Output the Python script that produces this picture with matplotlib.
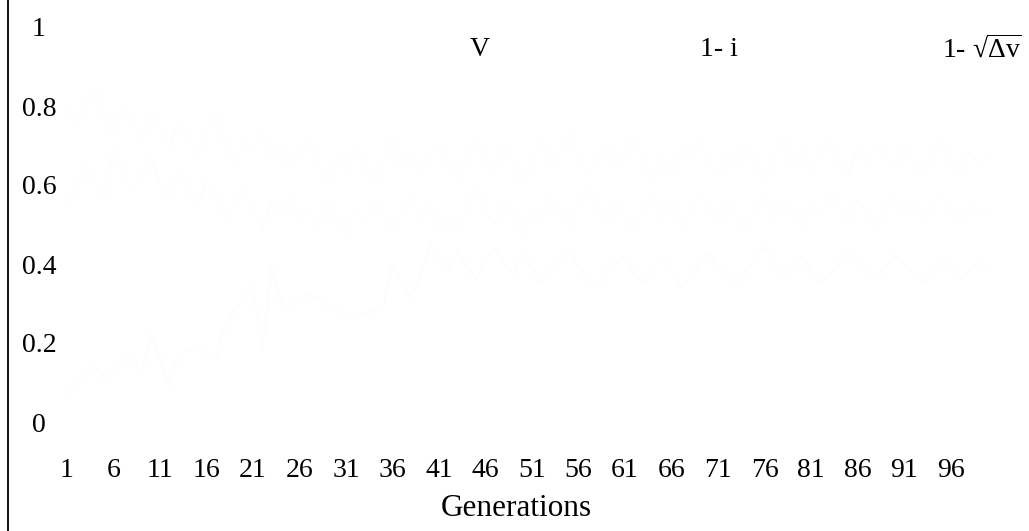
import matplotlib
matplotlib.use("Agg")
import matplotlib.pyplot as plt
import matplotlib.transforms as mtransforms

plt.rcParams['font.family'] = ['Liberation Serif', 'DejaVu Serif']
plt.rcParams['mathtext.fontset'] = 'custom'
plt.rcParams['mathtext.rm'] = 'Liberation Serif'
plt.rcParams['mathtext.it'] = 'Liberation Serif'

generations = list(range(1, 101))
xtick_labels = list(range(1, 97, 5))
ytick_values = [0, 0.2, 0.4, 0.6, 0.8, 1]
ytick_labels = ["0", "0.2", "0.4", "0.6", "0.8", "1"]
series_names = ["V", "1- i", r"1- √$\overline{\Delta\mathrm{v}}$"]

series_low = [
    0.08, 0.11, 0.13, 0.15, 0.12, 0.14, 0.16, 0.18, 0.13, 0.23,
    0.17, 0.10, 0.18, 0.19, 0.20, 0.18, 0.17, 0.25, 0.29, 0.32,
    0.35, 0.19, 0.40, 0.31, 0.30, 0.32, 0.33, 0.32, 0.30, 0.29,
    0.27, 0.28, 0.28, 0.29, 0.30, 0.41, 0.36, 0.32, 0.38, 0.46,
    0.42, 0.39, 0.44, 0.40, 0.37, 0.42, 0.45, 0.41, 0.38, 0.43,
    0.40, 0.36, 0.39, 0.42, 0.44, 0.40, 0.37, 0.35, 0.39, 0.41,
    0.43, 0.38, 0.36, 0.40, 0.42, 0.39, 0.35, 0.37, 0.41, 0.44,
    0.40, 0.38, 0.36, 0.39, 0.42, 0.45, 0.41, 0.38, 0.40, 0.43,
    0.39, 0.36, 0.38, 0.41, 0.44, 0.42, 0.39, 0.37, 0.40, 0.43,
    0.41, 0.38, 0.36, 0.39, 0.42, 0.40, 0.37, 0.39, 0.41, 0.40,
]
series_mid = [
    0.55, 0.60, 0.66, 0.62, 0.58, 0.70, 0.64, 0.59, 0.63, 0.68,
    0.61, 0.57, 0.65, 0.60, 0.55, 0.62, 0.58, 0.52, 0.56, 0.60,
    0.54, 0.49, 0.57, 0.53, 0.58, 0.51, 0.55, 0.50, 0.56, 0.52,
    0.48, 0.55, 0.51, 0.57, 0.53, 0.49, 0.54, 0.58, 0.52, 0.56,
    0.50, 0.53, 0.49, 0.55, 0.60, 0.54, 0.51, 0.57, 0.53, 0.48,
    0.55, 0.52, 0.58, 0.54, 0.50, 0.56, 0.60, 0.55, 0.51, 0.57,
    0.53, 0.49, 0.55, 0.58, 0.52, 0.56, 0.50, 0.54, 0.59, 0.55,
    0.51, 0.56, 0.53, 0.49, 0.55, 0.58, 0.52, 0.57, 0.54, 0.50,
    0.56, 0.53, 0.59, 0.55, 0.51, 0.57, 0.54, 0.50, 0.55, 0.58,
    0.53, 0.57, 0.52, 0.55, 0.59, 0.54, 0.51, 0.56, 0.53, 0.55,
]
series_top = [
    0.80, 0.76, 0.82, 0.85, 0.78, 0.74, 0.81, 0.77, 0.72, 0.79,
    0.75, 0.70, 0.77, 0.73, 0.68, 0.74, 0.79, 0.71, 0.66, 0.72,
    0.69, 0.74, 0.67, 0.71, 0.65, 0.70, 0.73, 0.66, 0.62, 0.68,
    0.64, 0.70, 0.66, 0.61, 0.67, 0.72, 0.65, 0.69, 0.63, 0.68,
    0.71, 0.66, 0.62, 0.68, 0.73, 0.67, 0.64, 0.70, 0.66, 0.61,
    0.67, 0.72, 0.65, 0.69, 0.74, 0.68, 0.63, 0.67, 0.71, 0.65,
    0.69, 0.73, 0.66, 0.62, 0.68, 0.64, 0.70, 0.67, 0.72, 0.66,
    0.63, 0.69, 0.65, 0.71, 0.67, 0.62, 0.68, 0.73, 0.66, 0.70,
    0.64, 0.69, 0.72, 0.67, 0.63, 0.70, 0.66, 0.71, 0.68, 0.65,
    0.70, 0.66, 0.63, 0.68, 0.72, 0.67, 0.64, 0.69, 0.66, 0.68,
]

W, H = 1029, 531
fig = plt.figure(figsize=(W / 100, H / 100), dpi=100)
ax = fig.add_axes([8 / W, 0, 1 - 8 / W, 1])

# pixel mapping: gen 1 -> x=67, step 9.3 px ; value 0 -> y=425, 1 -> y=30
x_lo = 1 + (8 - 67) / 9.3
x_hi = 1 + (W - 67) / 9.3
y_hi = 425 / 395
y_lo = (425 - H) / 395
ax.set_xlim(x_lo, x_hi)
ax.set_ylim(y_lo, y_hi)

line_colors = ["#fcfcfc", "#fdfdfd", "#fdfdfd"]
for vals, col in zip([series_low, series_mid, series_top], line_colors):
    ax.plot(generations, vals, color=col, lw=0.9)

for s in ["top", "right", "bottom"]:
    ax.spines[s].set_visible(False)
ax.spines["left"].set_linewidth(1.3)
ax.set_xticks([])
ax.set_yticks([])

fs = 20
trans_y = mtransforms.blended_transform_factory(ax.transAxes, ax.transData)
ax_x_px = lambda px: (px - 8) / (W - 8)
for v, lab in zip(ytick_values, ytick_labels):
    ax.text(ax_x_px(39), v, lab, transform=trans_y, ha="center", va="center", fontsize=fs)

for g in xtick_labels:
    ax.text(g, -0.114, str(g), ha="center", va="center", fontsize=fs)

ax.text(ax_x_px(516), -0.212, "Generations", transform=trans_y,
        ha="center", va="center", fontsize=22.5)

legend_x = [480, 719, 982]
for px, name in zip(legend_x, series_names):
    ax.text(ax_x_px(px), 0.95, name, transform=trans_y,
            ha="center", va="center", fontsize=fs)

fig.savefig("out.png", dpi=100)
